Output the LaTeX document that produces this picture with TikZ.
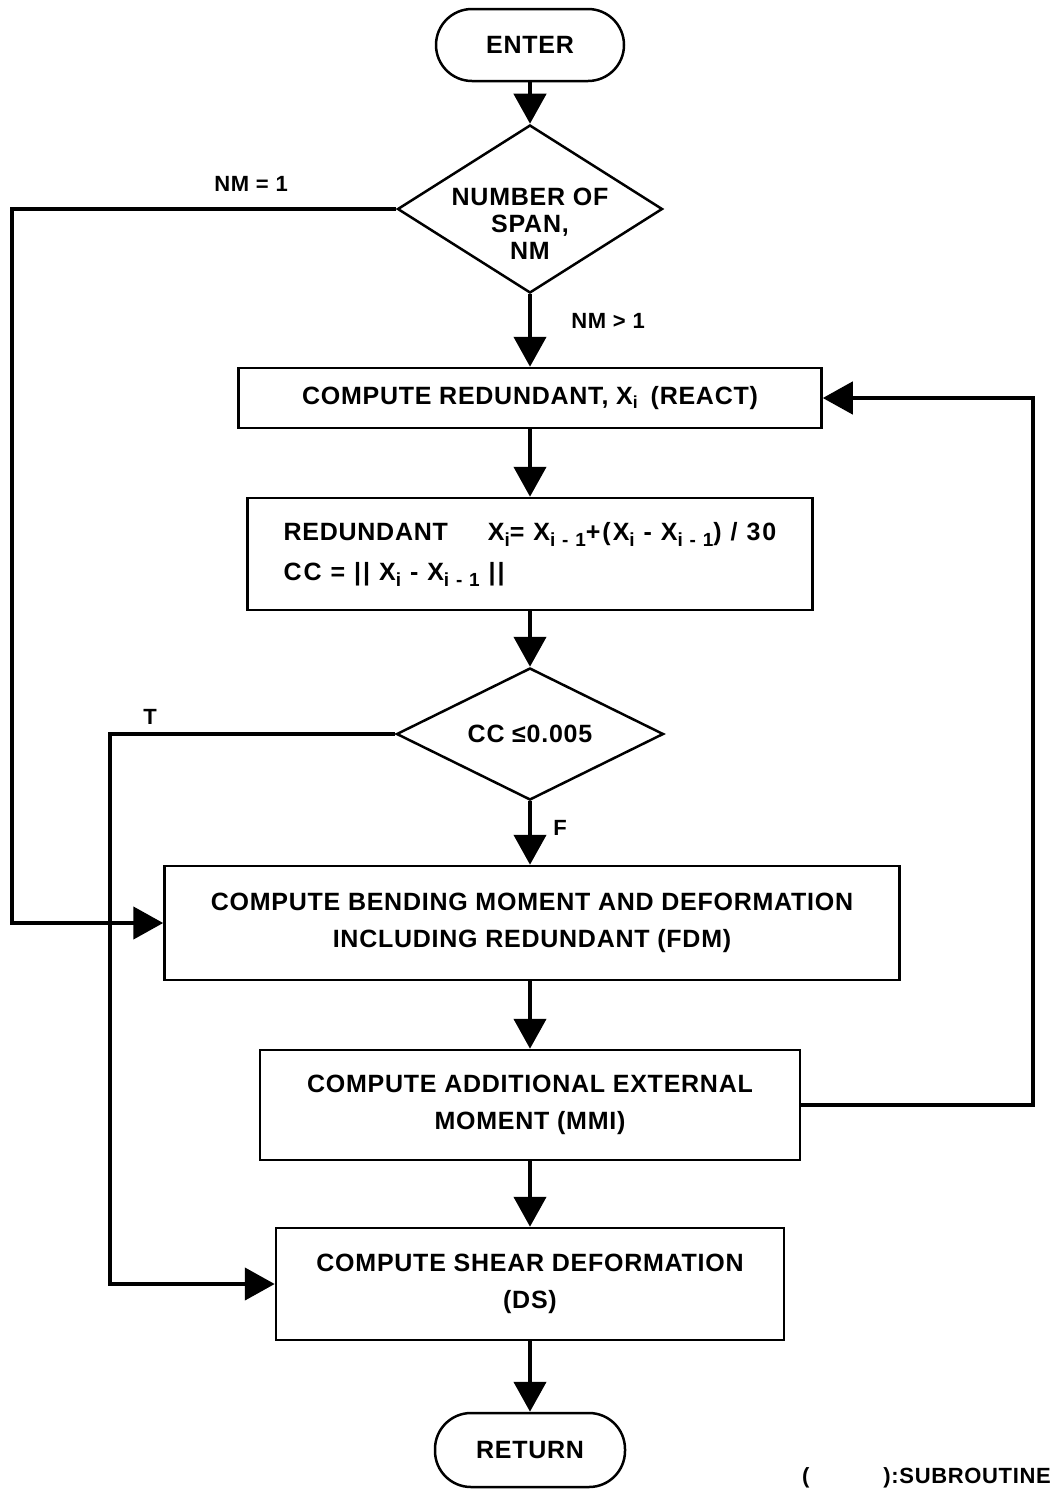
\documentclass[tikz,border=0pt]{standalone}
\usepackage{fontspec}
\setmainfont{Liberation Sans}[LetterSpace=3]
\newfontfamily\widefont{Liberation Sans}[LetterSpace=8]
\newcommand\sbs[1]{\raisebox{-6pt}{\fontsize{19}{19}\selectfont #1}}
\usetikzlibrary{shapes.geometric, arrows.meta, positioning}

\tikzset{
  txt/.style={font=\bfseries\fontsize{25}{37}\selectfont},
  proc/.style={draw, line width=2.5pt, rectangle, txt, align=center, inner sep=0pt},
  term/.style={draw, line width=2.5pt, rounded corners=36pt, txt, inner sep=0pt},
  dec/.style={draw, line width=2.5pt, diamond, font=\bfseries\fontsize{25}{27}\selectfont,
    align=center, inner sep=-5pt},
  lbl/.style={font=\bfseries\fontsize{22}{26}\selectfont, inner sep=1pt},
  flow/.style={line width=4.5pt, -{Triangle[width=32pt,length=30pt]}},
}

\begin{document}
\begin{tikzpicture}[x=1pt, y=-1pt]
    \useasboundingbox (0,0) rectangle (1056,1494);

    % Blöcke
    \node[term, minimum width=188, minimum height=72] (enter) at (530,45) {ENTER};
    \node[dec, minimum width=265, minimum height=168, shape aspect=1.58] (span) at (530,209)
        {\raisebox{-24pt}[0pt][0pt]{\begin{tabular}{@{}c@{}}NUMBER OF\\SPAN,\\NM\end{tabular}}};
    \node[proc, minimum width=583, minimum height=60] (react) at (530,398)
        {COMPUTE REDUNDANT, X\textsubscript{i}\enspace(REACT)};
    \node[proc, minimum width=565, minimum height=112, align=left, font=\bfseries\fontsize{25}{40}\selectfont] (redund) at (530,554)
        {REDUNDANT\hspace{40pt}{\widefont X\sbs{i}= X\sbs{i - 1}+(X\sbs{i} - X\sbs{i - 1}) / 30}\\
         {\widefont CC = || X\sbs{i} - X\sbs{i - 1} ||}};
    \node[dec, minimum width=267, minimum height=132, shape aspect=2] (conv) at (530,734)
        {CC ≤0.005};
    \node[proc, minimum width=735, minimum height=114] (fdm) at (532,923)
        {COMPUTE BENDING MOMENT AND DEFORMATION\\INCLUDING REDUNDANT (FDM)};
    \node[proc, minimum width=540, minimum height=110] (mmi) at (530,1105)
        {COMPUTE ADDITIONAL EXTERNAL\\MOMENT (MMI)};
    \node[proc, minimum width=508, minimum height=112] (ds) at (530,1284)
        {COMPUTE SHEAR DEFORMATION\\(DS)};
    \node[term, minimum width=190, minimum height=74] (ret) at (530,1450) {RETURN};

    % Hilfspunkte
    \coordinate (lft) at (12,923);
    \coordinate (tlft) at (110,1284);
    \coordinate (rgt) at (1033,398);

    % Pfeile
    \draw[flow] (enter) -- (span);
    \draw[flow] (span) -- (react);
    \draw[flow] (react) -- (redund);
    \draw[flow] (redund) -- (conv);
    \draw[flow] (conv) -- (conv.south |- fdm.north);
    \draw[flow] (fdm.south -| mmi) -- (mmi);
    \draw[flow] (mmi) -- (ds);
    \draw[flow] (ds) -- (ret);
    \draw[flow] (span.west) -| (lft) |- (fdm.west);
    \draw[flow] (conv.west) -| (tlft) |- (ds.west);
    \draw[flow] (mmi.east) -| (rgt) |- (react.east);

    % Beschriftungen
    \node[lbl] (nmone) at (251,184) {NM = 1};
    \node[lbl] (nmmore) at (608,321) {NM > 1};
    \node[lbl] (ltrue) at (150,717) {T};
    \node[lbl] (lfalse) at (560,828) {F};
    \node[lbl, anchor=east] (note) at (1052,1478) {(\hspace{74pt}):SUBROUTINE};
\end{tikzpicture}
\end{document}
